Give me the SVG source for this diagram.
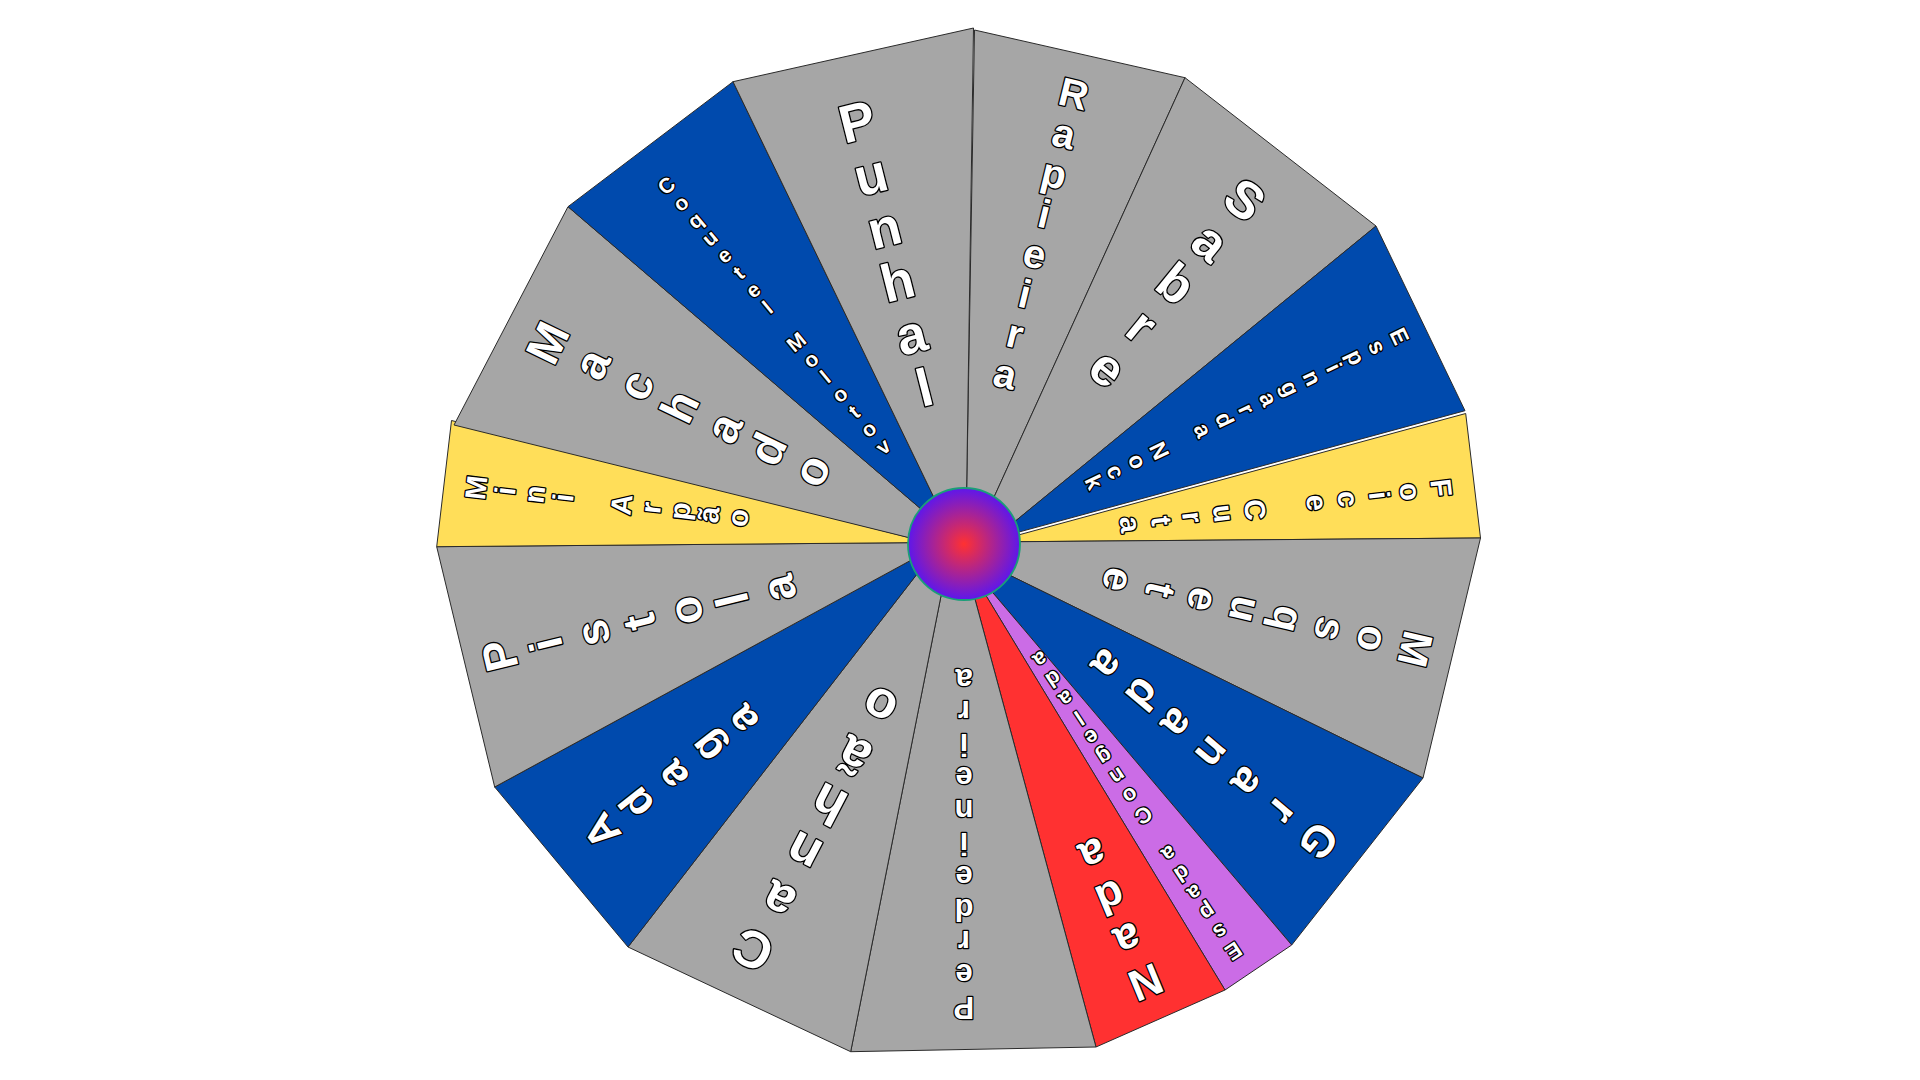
<svg xmlns="http://www.w3.org/2000/svg" width="1920" height="1080" viewBox="0 0 1920 1080">
<style>
.seg{stroke:#2a2a2a;stroke-width:1;stroke-linejoin:miter}
.grey{fill:#a6a6a6}.blue{fill:#004aad}.yellow{fill:#ffde59}.red{fill:#ff3131}.purple{fill:#cb6ce6}
.lbl text{font-family:"Liberation Sans",Arial,sans-serif;font-weight:bold;fill:#fff;stroke:#000;stroke-width:2.6;stroke-linejoin:round;paint-order:stroke fill;text-anchor:middle}
</style>
<defs>
<radialGradient id="hubGrad" cx="0.5" cy="0.5" r="0.5">
<stop offset="0" stop-color="#ff3131"/>
<stop offset="1" stop-color="#5e17eb"/>
</radialGradient>
</defs>
<rect width="1920" height="1080" fill="#ffffff"/>
<g id="wheel">
<g id="seg-rapieira">
<polygon class="seg grey" points="964,544 966.3,511.7 974.5,30 1185,77.7 984.6,517.8"/>
<g class="lbl" transform="rotate(13.7 964 544)" font-size="40">
<text x="964" y="94.4">R</text><text x="964" y="135.6">a</text><text x="964" y="176.8">p</text><text x="964" y="218">i</text><text x="964" y="259.2">e</text><text x="964" y="300.4">i</text><text x="964" y="341.6">r</text><text x="964" y="382.8">a</text>
</g>
</g>
<g id="seg-sabre">
<polygon class="seg grey" points="964,544 984.6,517.8 1185,77.7 1376,226 997.4,535.8"/>
<g class="lbl" transform="rotate(39.2 964 544)" font-size="52">
<text x="964" y="117.7">S</text><text x="964" y="171.9">a</text><text x="964" y="226.1">b</text><text x="964" y="280.3">r</text><text x="964" y="334.5">e</text>
</g>
</g>
<g id="seg-espingarda">
<polygon class="seg blue" points="964,544 997.4,535.8 1376,226 1465,410.7 995.9,538.3"/>
<g class="lbl" transform="rotate(64.5 964 544)" font-size="23">
<text x="964" y="69.6">E</text><text x="964" y="93.8">s</text><text x="964" y="118">p</text><text x="964" y="142.1">i</text><text x="964" y="166.3">n</text><text x="964" y="190.5">g</text><text x="964" y="214.7">a</text><text x="964" y="238.9">r</text><text x="964" y="263">d</text><text x="964" y="287.2">a</text><text x="964" y="335.6">N</text><text x="964" y="359.8">o</text><text x="964" y="384">c</text><text x="964" y="408.1">k</text>
</g>
</g>
<g id="seg-foice">
<polygon class="seg yellow" points="964,544 995.9,541.1 1465.7,413.5 1480.5,538 995,541.9"/>
<g class="lbl" transform="rotate(83.3 964 544)" font-size="29">
<text x="964" y="73.4">F</text><text x="964" y="104.7">o</text><text x="964" y="136">i</text><text x="964" y="167.3">c</text><text x="964" y="198.6">e</text><text x="964" y="261.2">C</text><text x="964" y="292.5">u</text><text x="964" y="323.8">r</text><text x="964" y="355.1">t</text><text x="964" y="386.4">a</text>
</g>
</g>
<g id="seg-mosquete">
<polygon class="seg grey" points="964,544 995,541.9 1480.5,538 1423,778 990.3,565.7"/>
<g class="lbl" transform="rotate(103.1 964 544)" font-size="42">
<text x="964" y="95.4">M</text><text x="964" y="138.9">o</text><text x="964" y="182.4">s</text><text x="964" y="225.9">q</text><text x="964" y="269.4">u</text><text x="964" y="312.9">e</text><text x="964" y="356.4">t</text><text x="964" y="399.9">e</text>
</g>
</g>
<g id="seg-granada">
<polygon class="seg blue" points="964,544 990.3,565.7 1423,778 1291.7,945 977.1,574.2"/>
<g class="lbl" transform="rotate(130 964 544)" font-size="44">
<text x="964" y="96.4">G</text><text x="964" y="142.2">r</text><text x="964" y="187.9">a</text><text x="964" y="233.7">n</text><text x="964" y="279.4">a</text><text x="964" y="325.2">d</text><text x="964" y="370.9">a</text>
</g>
</g>
<g id="seg-espada-congelada">
<polygon class="seg purple" points="964,544 977.1,574.2 1291.7,945 1225,990 973.7,575.3"/>
<g class="lbl" transform="rotate(146.5 964 544)" font-size="22">
<text x="964" y="63.3">E</text><text x="964" y="86.6">s</text><text x="964" y="109.9">p</text><text x="964" y="133.2">a</text><text x="964" y="156.5">d</text><text x="964" y="179.8">a</text><text x="964" y="226.4">C</text><text x="964" y="249.7">o</text><text x="964" y="273">n</text><text x="964" y="296.3">g</text><text x="964" y="319.6">e</text><text x="964" y="342.9">l</text><text x="964" y="366.2">a</text><text x="964" y="389.5">d</text><text x="964" y="412.8">a</text>
</g>
</g>
<g id="seg-nada">
<polygon class="seg red" points="964,544 973.7,575.3 1225,990 1096,1047 968.5,575.2"/>
<g class="lbl" transform="rotate(157.5 964 544)" font-size="44">
<text x="964" y="84.7">N</text><text x="964" y="130.6">a</text><text x="964" y="176.5">d</text><text x="964" y="222.4">a</text>
</g>
</g>
<g id="seg-perdeineira">
<polygon class="seg grey" points="964,544 968.5,575.2 1096,1047 850.7,1051.7 945.6,572.8"/>
<g class="lbl" transform="rotate(180 964 544)" font-size="31">
<text x="964" y="90.9">P</text><text x="964" y="123.8">e</text><text x="964" y="156.6">r</text><text x="964" y="189.5">d</text><text x="964" y="222.3">e</text><text x="964" y="255.2">i</text><text x="964" y="288">n</text><text x="964" y="320.9">e</text><text x="964" y="353.7">i</text><text x="964" y="386.6">r</text><text x="964" y="419.4">a</text>
</g>
</g>
<g id="seg-canhao">
<polygon class="seg grey" points="964,544 945.6,572.8 850.7,1051.7 628,947 930.3,556.9"/>
<g class="lbl" transform="rotate(207.5 964 544)" font-size="52">
<text x="964" y="104.5">C</text><text x="964" y="159.2">a</text><text x="964" y="213.9">n</text><text x="964" y="268.6">h</text><text x="964" y="323.3">ã</text><text x="964" y="378">o</text>
</g>
</g>
<g id="seg-adaga">
<polygon class="seg blue" points="964,544 930.3,556.9 628,947 494.7,787 930.3,549.7"/>
<g class="lbl" transform="rotate(231.6 964 544)" font-size="43">
<text x="964" y="96.3">A</text><text x="964" y="141">d</text><text x="964" y="185.7">a</text><text x="964" y="230.4">g</text><text x="964" y="275.1">a</text>
</g>
</g>
<g id="seg-pistola">
<polygon class="seg grey" points="964,544 930.3,549.7 494.7,787 436.7,546.7 928.5,542.5"/>
<g class="lbl" transform="rotate(256.5 964 544)" font-size="46">
<text x="964" y="82.3">P</text><text x="964" y="130.1">i</text><text x="964" y="177.9">s</text><text x="964" y="225.7">t</text><text x="964" y="273.5">o</text><text x="964" y="321.3">l</text><text x="964" y="369.1">a</text>
</g>
</g>
<g id="seg-mini-arpao">
<polygon class="seg yellow" points="928.5,542.5 436.7,546.7 451.5,420.5"/>
<g class="lbl" transform="rotate(276.6 964 544)" font-size="29">
<text x="964" y="62.9">M</text><text x="964" y="92.2">i</text><text x="964" y="121.5">n</text><text x="964" y="150.7">i</text><text x="964" y="209.3">A</text><text x="964" y="238.6">r</text><text x="964" y="267.9">p</text><text x="964" y="297.1">ã</text><text x="964" y="326.4">o</text>
</g>
</g>
<g id="seg-machado">
<polygon class="seg grey" points="964,544 928.5,542.5 454,425 568,206.7 937.3,523"/>
<g class="lbl" transform="rotate(295.8 964 544)" font-size="47">
<text x="964" y="97.9">M</text><text x="964" y="146.7">a</text><text x="964" y="195.5">c</text><text x="964" y="244.3">h</text><text x="964" y="293.1">a</text><text x="964" y="341.9">d</text><text x="964" y="390.7">o</text>
</g>
</g>
<g id="seg-coquetel-molotov">
<polygon class="seg blue" points="964,544 937.3,523 568,206.7 733,81.7 943.6,517.5"/>
<g class="lbl" transform="rotate(320.3 964 544)" font-size="21">
<text x="964" y="85.5">C</text><text x="964" y="108.1">o</text><text x="964" y="130.7">q</text><text x="964" y="153.3">u</text><text x="964" y="175.9">e</text><text x="964" y="198.5">t</text><text x="964" y="221.1">e</text><text x="964" y="243.7">l</text><text x="964" y="288.9">M</text><text x="964" y="311.5">o</text><text x="964" y="334.1">l</text><text x="964" y="356.7">o</text><text x="964" y="379.3">t</text><text x="964" y="401.9">o</text><text x="964" y="424.5">v</text>
</g>
</g>
<g id="seg-punhal">
<polygon class="seg grey" points="964,544 943.6,517.5 733,81.7 973.5,28 966.3,511.7"/>
<g class="lbl" transform="rotate(-14.2 964 544)" font-size="53">
<text x="964" y="126.7">P</text><text x="964" y="181.6">u</text><text x="964" y="236.5">n</text><text x="964" y="291.4">h</text><text x="964" y="346.3">a</text><text x="964" y="401.2">l</text>
</g>
</g>
<g id="hub">
<circle cx="964" cy="544" r="56" fill="url(#hubGrad)" stroke="#1a9e78" stroke-width="1.8"/>
</g>
</g>
</svg>
